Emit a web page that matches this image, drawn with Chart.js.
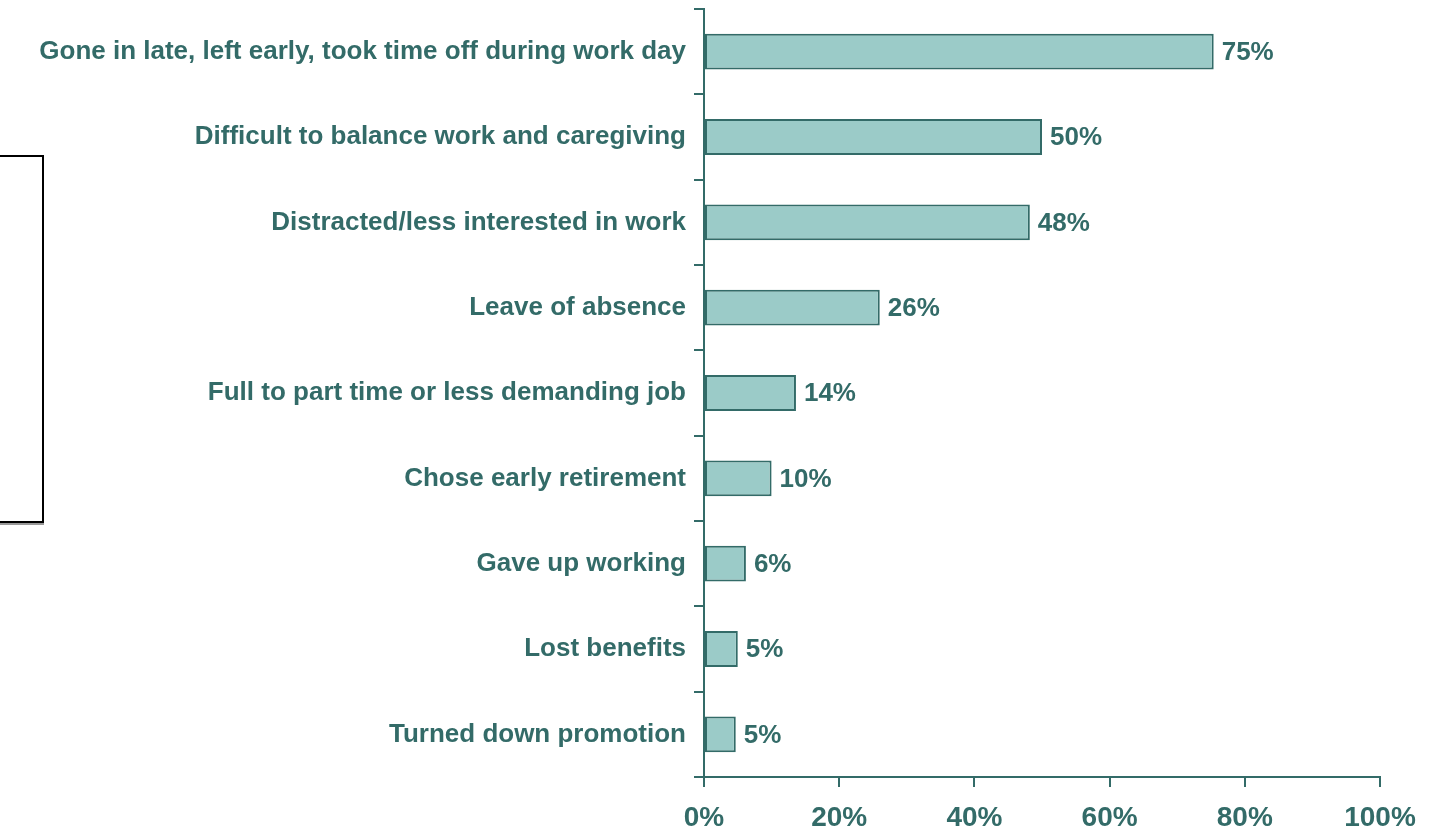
<!DOCTYPE html>
<html>
<head>
<meta charset="utf-8">
<script src="https://cdn.jsdelivr.net/npm/chart.js@4/dist/chart.umd.min.js"></script>
<style>
  html, body { margin: 0; padding: 0; background: #fff; }
  #wrap { position: relative; width: 1430px; height: 832px; overflow: hidden; }
  #box {
    position: absolute; left: -10px; top: 155px; width: 50px; height: 364px;
    border: 2px solid #000; box-shadow: 0 2px 0 #999;
  }
</style>
</head>
<body>
<div id="wrap">
  <div id="box"></div>
  <canvas id="impactChart" width="1430" height="832"></canvas>
</div>
<script>
const categories = [
  'Gone in late, left early, took time off during work day',
  'Difficult to balance work and caregiving',
  'Distracted/less interested in work',
  'Leave of absence',
  'Full to part time or less demanding job',
  'Chose early retirement',
  'Gave up working',
  'Lost benefits',
  'Turned down promotion'
];
const values = [75.4, 50, 48.2, 26, 13.6, 10, 6.2, 5, 4.7];
const valueLabels = ['75%', '50%', '48%', '26%', '14%', '10%', '6%', '5%', '5%'];
const xTicks = [0, 20, 40, 60, 80, 100];

const teal = '#336b68';
const fillColor = '#9bcbc8';
const font = "'Liberation Sans', Arial, sans-serif";

const barLabels = {
  id: 'barLabels',
  afterDatasetsDraw(chart) {
    const ctx = chart.ctx;
    const meta = chart.getDatasetMeta(0);
    ctx.save();
    ctx.fillStyle = teal;
    ctx.font = `bold 26px ${font}`;
    ctx.textAlign = 'left';
    ctx.textBaseline = 'middle';
    meta.data.forEach((bar, i) => {
      ctx.fillText(valueLabels[i], bar.x + 8, bar.y + 1);
    });
    ctx.restore();
  }
};

new Chart(document.getElementById('impactChart'), {
  type: 'bar',
  data: {
    labels: categories,
    datasets: [{
      data: values,
      backgroundColor: fillColor,
      borderColor: teal,
      borderWidth: 2,
      borderSkipped: false,
      barPercentage: 0.42,
      categoryPercentage: 1
    }]
  },
  options: {
    indexAxis: 'y',
    responsive: false,
    animation: false,
    layout: { padding: { top: 9, right: 50, left: 0, bottom: 0 } },
    plugins: { legend: { display: false }, tooltip: { enabled: false } },
    scales: {
      x: {
        min: 0, max: 100,
        afterBuildTicks: s => { s.ticks = xTicks.map(v => ({ value: v })); },
        afterFit: s => { s.height = 55; s.paddingLeft = 0; s.paddingRight = 0; },
        border: { color: teal, width: 2 },
        grid: { drawOnChartArea: false, color: teal, lineWidth: 2, tickLength: 10 },
        ticks: {
          color: teal, padding: 14,
          font: { family: font, size: 28, weight: 'bold' },
          callback: v => v + '%'
        }
      },
      y: {
        afterFit: s => { s.width = 704; s.paddingTop = 0; s.paddingBottom = 0; },
        border: { color: teal, width: 2 },
        grid: { drawOnChartArea: false, color: teal, lineWidth: 2, tickLength: 10, offset: true },
        ticks: {
          color: teal, padding: 8,
          font: { family: font, size: 26, weight: 'bold' }
        }
      }
    }
  },
  plugins: [barLabels]
});
</script>
</body>
</html>
